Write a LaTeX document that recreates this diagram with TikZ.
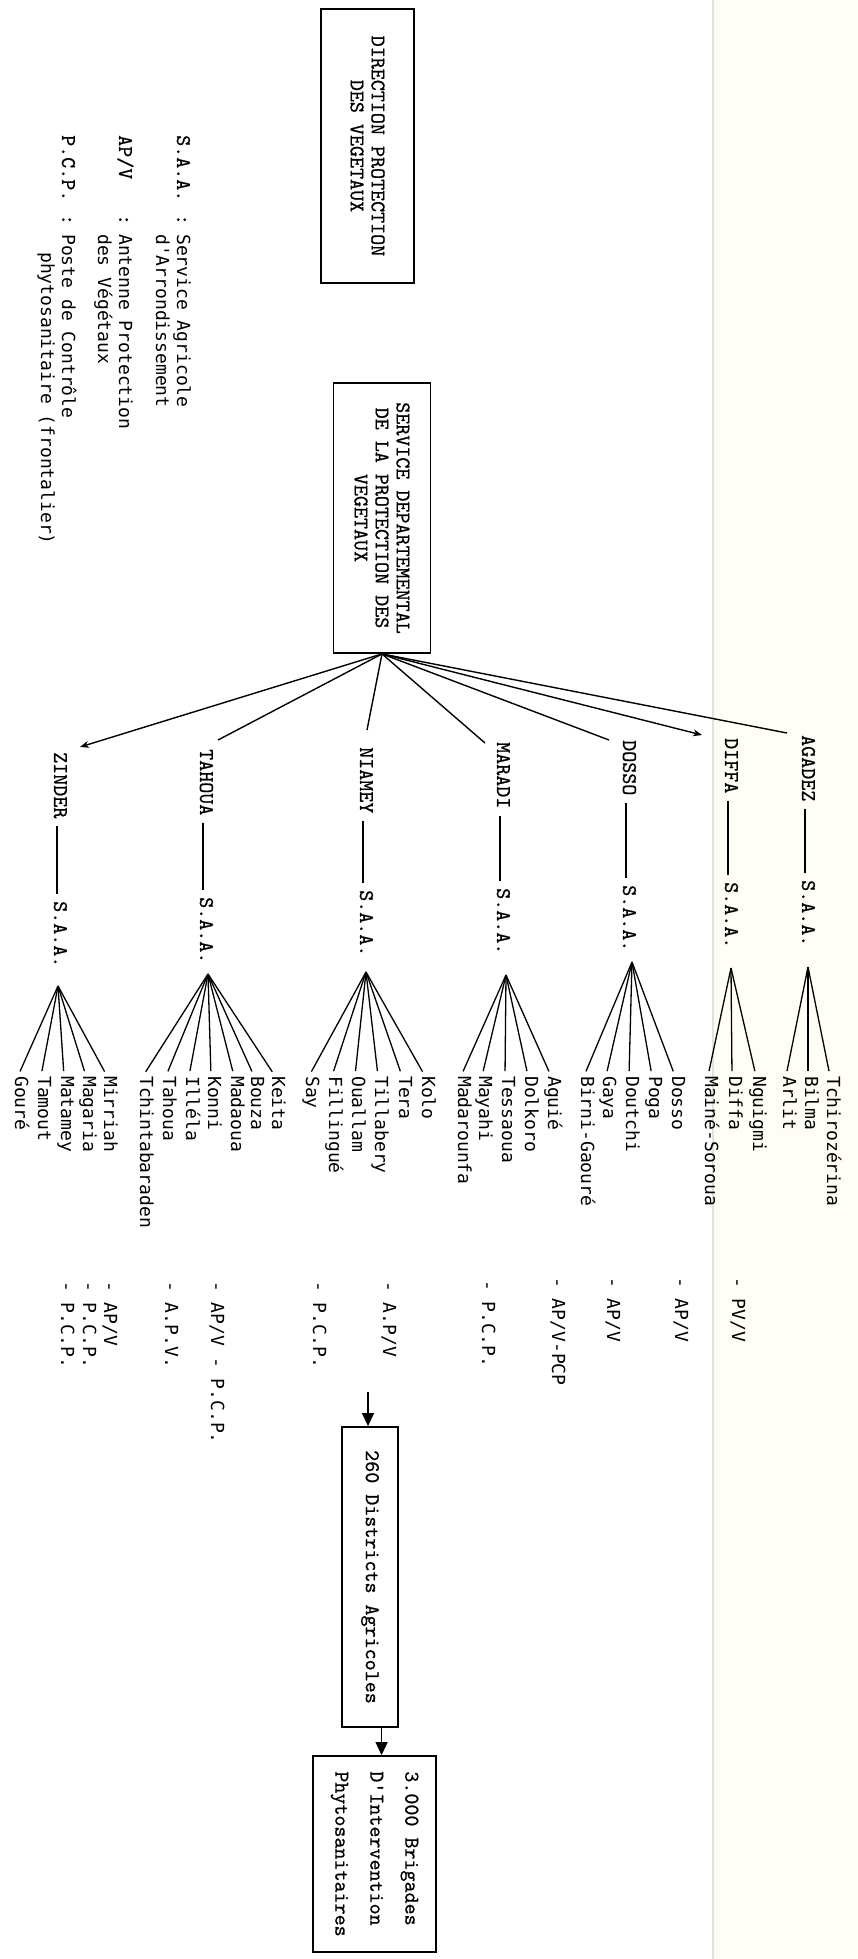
\documentclass[tikz,border=0pt]{standalone}
\usepackage{fontspec}
\newfontfamily\goth{DejaVu Sans Mono}
\newfontfamily\tw{lmmono10-regular.otf}[FakeBold=0.7]
\usetikzlibrary{arrows.meta,calc}
\definecolor{paper}{RGB}{255,254,246}
\begin{document}
\begin{tikzpicture}[x=1pt,y=-1pt,
  hdr/.style={font=\tw\fontsize{21}{21}\selectfont},
  lstf/.style={font=\goth\fontsize{18}{21}\selectfont},
  rt/.style={rotate=-90, inner sep=0pt, text height=0.7em, text depth=0.1em},
  lbl/.style={rt, hdr, anchor=west},
  itm/.style={rt, lstf, anchor=west},
  boxnode/.style={draw, line width=1.8pt, rotate=-90, inner sep=0pt, align=center, hdr},
  conn/.style={line width=1.4pt},
  fan/.style={line width=1.3pt, shorten >=5pt},
  dashl/.style={line width=1.3pt, shorten <=7pt, shorten >=7pt},
  tip/.style={-{Stealth[length=9pt,width=7pt]}},
  bigtip/.style={-{Triangle[length=13pt,width=12pt]}},
]
\useasboundingbox (0,0) rectangle (858,1959);
\fill[white] (0,0) rectangle (858,1959);
\fill[paper] (714,0) rectangle (858,1959);
\draw[black!12, line width=1.5pt] (713,0) -- (713,1959);

% ---------- header boxes ----------
\node[boxnode, minimum width=274pt, minimum height=93pt] (box1) at (367.5,146)
  {DIRECTION PROTECTION\\DES VEGETAUX};
\node[boxnode, minimum width=270pt, minimum height=97pt] (box2) at (382,518)
  {SERVICE DEPARTEMENTAL\\DE LA PROTECTION DES\\VEGETAUX};

% ---------- legend ----------
\node[lbl] (lgS) at (180,135) {S.A.A.};
\node[lbl] (lgSc) at (180,214) {:};
\node[itm] (lgS1) at (180,234) {Service Agricole};
\node[itm] (lgS2) at (159,234) {d'Arrondissement};
\node[lbl] (lgA) at (122,135) {AP/V};
\node[lbl] (lgAc) at (122,214) {:};
\node[itm] (lgA1) at (122,234) {Antenne Protection};
\node[itm] (lgA2) at (101,234) {des Végétaux};
\node[lbl] (lgP) at (65,135) {P.C.P.};
\node[lbl] (lgPc) at (65,214) {:};
\node[itm] (lgP1) at (65,234) {Poste de Contrôle};
\node[itm] (lgP2) at (44,252) {phytosanitaire (frontalier)};

% ---------- regions ----------
\node[lbl] (rA) at (805,735) {AGADEZ};
\node[lbl] (rD) at (728,738) {DIFFA};
\node[lbl] (rO) at (626,740) {DOSSO};
\node[lbl] (rM) at (500,742) {MARADI};
\node[lbl] (rN) at (363,747) {NIAMEY};
\node[lbl] (rT) at (203,749) {TAHOUA};
\node[lbl] (rZ) at (57,752) {ZINDER};

\coordinate (eA) at (787,733);
\coordinate (eD) at (702,735);
\coordinate (eO) at (609,740);
\coordinate (eM) at (485,743);
\coordinate (eN) at (367,730);
\coordinate (eT) at (218,740);
\coordinate (eZ) at (80,747);
\draw[conn] (box2.east) -- (eA);
\draw[conn,tip] (box2.east) -- (eD);
\draw[conn] (box2.east) -- (eO);
\draw[conn] (box2.east) -- (eM);
\draw[conn] (box2.east) -- (eN);
\draw[conn] (box2.east) -- (eT);
\draw[conn,tip] (box2.east) -- (eZ);

% S.A.A. nodes
\node[lbl] (sA) at (805,880) {S.A.A.};
\node[lbl] (sD) at (728,882) {S.A.A.};
\node[lbl] (sO) at (626,885) {S.A.A.};
\node[lbl] (sM) at (500,888) {S.A.A.};
\node[lbl] (sN) at (363,890) {S.A.A.};
\node[lbl] (sT) at (203,897) {S.A.A.};
\node[lbl] (sZ) at (57,901) {S.A.A.};
\foreach \r in {A,D,O,M,N,T,Z} {\draw[dashl] (r\r.east) -- (s\r.west);}

% fan apexes
\coordinate (pA) at (808,967);
\coordinate (pD) at (731,968);
\coordinate (pO) at (632,962);
\coordinate (pM) at (506,975);
\coordinate (pN) at (366,972);
\coordinate (pT) at (208,974);
\coordinate (pZ) at (58,986);

% ---------- district lists ----------
\foreach \i/\x/\t in {1/786/Arlit,2/808/Bilma,3/830/Tchirozérina}
  {\node[itm] (dA\i) at (\x,1076) {\t}; \draw[fan] (pA) -- (dA\i.west);}
\foreach \i/\x/\t in {1/708/Mainé-Soroua,2/732/Diffa,3/756/Nguigmi}
  {\node[itm] (dD\i) at (\x,1076) {\t}; \draw[fan] (pD) -- (dD\i.west);}
\foreach \i/\x/\t in {1/584/Birni-Gaouré,2/606/Gaya,3/629/Doutchi,4/652/Poga,5/675/Dosso}
  {\node[itm] (dO\i) at (\x,1076) {\t}; \draw[fan] (pO) -- (dO\i.west);}
\foreach \i/\x/\t in {1/461/Madarounfa,2/482/Mayahi,3/505/Tessaoua,4/528/Dolkoro,5/551/Aguié}
  {\node[itm] (dM\i) at (\x,1076) {\t}; \draw[fan] (pM) -- (dM\i.west);}
\foreach \i/\x/\t in {1/309/Say,2/332/Fillingué,3/355/Ouallam,4/378/Tillabery,5/402/Tera,6/425/Kolo}
  {\node[itm] (dN\i) at (\x,1076) {\t}; \draw[fan] (pN) -- (dN\i.west);}
\foreach \i/\x/\t in {1/143/Tchintabaraden,2/166/Tahoua,3/189/Illéla,4/211/Konni,5/234/Madaoua,6/254/Bouza,7/275/Keita}
  {\node[itm] (dT\i) at (\x,1076) {\t}; \draw[fan] (pT) -- (dT\i.west);}
\foreach \i/\x/\t in {1/18/Gouré,2/41/Tamout,3/64/Matamey,4/86/Magaria,5/107/Mirriah}
  {\node[itm] (dZ\i) at (\x,1076) {\t}; \draw[fan] (pZ) -- (dZ\i.west);}

% ---------- annotations ----------
\node[itm] (nD) at (735,1277) {- PV/V};
\node[itm] (nO1) at (678,1277) {- AP/V};
\node[itm] (nO2) at (610,1277) {- AP/V};
\node[itm] (nM1) at (555,1277) {- AP/V-PCP};
\node[itm] (nM2) at (485,1280) {- P.C.P.};
\node[itm] (nN1) at (386,1281) {- A.P/V};
\node[itm] (nN2) at (316,1281) {- P.C.P.};
\node[itm] (nT1) at (214,1281) {- AP/V - P.C.P.};
\node[itm] (nT2) at (168,1281) {- A.P.V.};
\node[itm] (nZ1) at (107,1281) {- AP/V};
\node[itm] (nZ2) at (86,1281) {- P.C.P.};
\node[itm] (nZ3) at (64,1281) {- P.C.P.};

% ---------- lower boxes ----------
\node[boxnode, minimum width=300pt, minimum height=56pt] (box3) at (370,1577)
  {260 Districts Agricoles};
\node[boxnode, align=left, font=\tw\fontsize{21}{35}\selectfont,
  minimum width=196pt, minimum height=123pt] (box4) at (374.5,1854)
  {3.000 Brigades\\D'Intervention\\Phytosanitaires};
\coordinate (aS) at (368,1392);
\draw[conn,bigtip] (aS) -- (aS |- box3.west);
\coordinate (b3o) at ($(box3.south east)!0.7!(box3.north east)$);
\draw[conn,bigtip] (b3o) -- (b3o |- box4.west);
\end{tikzpicture}
\end{document}
